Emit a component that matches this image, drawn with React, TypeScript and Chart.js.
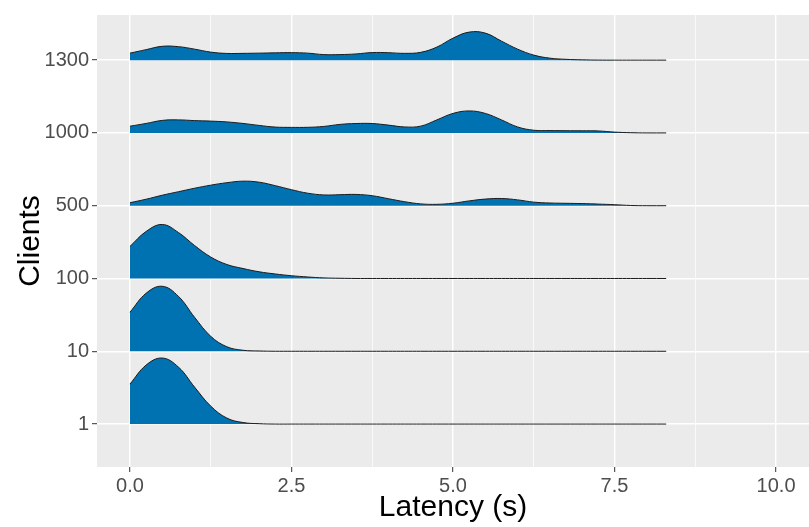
import React, { useEffect, useRef } from "react";
import { Chart, registerables } from "chart.js";

Chart.register(...registerables);

// Categories (bottom to top)
const CLIENTS = ["1", "10", "100", "500", "1000", "1300"];

// Latency grid (s)
const LATENCY = [
  0, 0.25, 0.5, 0.75, 1, 1.25, 1.5, 1.75, 2, 2.25, 2.5, 2.75, 3, 3.25, 3.5, 3.75,
  4, 4.25, 4.5, 4.75, 5, 5.25, 5.5, 5.75, 6, 6.25, 6.5, 6.75, 7, 7.25, 7.5, 7.75, 8, 8.3,
];

// Scaled densities per client count (1 = one ridge spacing)
const DENSITY_1 = [
  0.549, 0.81, 0.907, 0.783, 0.508, 0.247, 0.082, 0.021, 0.005, 0, 0, 0, 0, 0, 0, 0,
  0, 0, 0, 0, 0, 0, 0, 0, 0, 0, 0, 0, 0, 0, 0, 0, 0, 0,
];
const DENSITY_10 = [
  0.536, 0.797, 0.893, 0.755, 0.467, 0.206, 0.062, 0.014, 0.004, 0, 0, 0, 0, 0, 0, 0,
  0, 0, 0, 0, 0, 0, 0, 0, 0, 0, 0, 0, 0, 0, 0, 0, 0, 0,
];
const DENSITY_100 = [
  0.44, 0.646, 0.742, 0.632, 0.453, 0.295, 0.192, 0.137, 0.092, 0.062, 0.038, 0.021, 0.008, 0.003, 0, 0,
  0, 0, 0, 0, 0, 0, 0, 0, 0, 0, 0, 0, 0, 0, 0, 0, 0, 0,
];
const DENSITY_500 = [
  0.041, 0.089, 0.144, 0.192, 0.24, 0.282, 0.316, 0.337, 0.323, 0.275, 0.22, 0.172, 0.148, 0.151, 0.155, 0.137,
  0.096, 0.055, 0.025, 0.019, 0.034, 0.066, 0.091, 0.099, 0.08, 0.049, 0.037, 0.033, 0.029, 0.022, 0.014, 0.003, 0, 0,
];
const DENSITY_1000 = [
  0.092, 0.13, 0.172, 0.179, 0.169, 0.162, 0.151, 0.13, 0.103, 0.08, 0.076, 0.077, 0.089, 0.117, 0.129, 0.129,
  0.107, 0.082, 0.093, 0.179, 0.268, 0.302, 0.268, 0.179, 0.082, 0.037, 0.032, 0.03, 0.029, 0.027, 0.011, 0.003, 0, 0,
];
const DENSITY_1300 = [
  0.096, 0.144, 0.19, 0.185, 0.151, 0.11, 0.092, 0.093, 0.096, 0.1, 0.103, 0.096, 0.076, 0.076, 0.085, 0.104,
  0.102, 0.093, 0.107, 0.179, 0.302, 0.385, 0.371, 0.261, 0.151, 0.069, 0.027, 0.011, 0.004, 0.001, 0, 0, 0, 0,
];

const DENSITIES = [DENSITY_1, DENSITY_10, DENSITY_100, DENSITY_500, DENSITY_1000, DENSITY_1300];

const X_TICKS = [0, 1.25, 2.5, 3.75, 5, 6.25, 7.5, 8.75, 10];
const X_LABELS = ["0.0", "", "2.5", "", "5.0", "", "7.5", "", "10.0"];

const FONT = "'Liberation Sans', Arial, sans-serif";

const panelBg = {
  id: "panelBg",
  beforeDraw(chart: any) {
    const { ctx, chartArea } = chart;
    if (!chartArea) return;
    ctx.save();
    ctx.fillStyle = "#EBEBEB";
    ctx.fillRect(chartArea.left, chartArea.top, chartArea.right - chartArea.left, chartArea.bottom - chartArea.top);
    ctx.restore();
  },
};

export default function App() {
  const ref = useRef<HTMLCanvasElement | null>(null);

  useEffect(() => {
    if (!ref.current) return;
    const datasets = CLIENTS.map((c, i) => ({
      label: c,
      data: LATENCY.map((x, j) => ({ x, y: i + DENSITIES[i][j] })),
      borderColor: "#1c1c1c",
      borderWidth: 1,
      backgroundColor: "#0072B2",
      fill: { value: i },
      pointRadius: 0,
      tension: 0.4,
      order: i,
    }));

    const chart = new Chart(ref.current, {
      type: "line",
      data: { datasets },
      plugins: [panelBg],
      options: {
        responsive: false,
        animation: false,
        layout: { padding: { top: 15, right: 0, bottom: 0, left: 0 } },
        plugins: { legend: { display: false }, tooltip: { enabled: false } },
        scales: {
          x: {
            type: "linear",
            min: -0.51,
            max: 10.51,
            afterBuildTicks: (s: any) => {
              s.ticks = X_TICKS.map((v) => ({ value: v }));
            },
            afterFit: (s: any) => {
              s.height = 60;
            },
            border: { display: false },
            grid: {
              color: "#FFFFFF",
              lineWidth: (ctx: any) => (ctx.index % 2 === 0 ? 1.4 : 0.7),
              tickColor: (ctx: any) => (ctx.index % 2 === 0 ? "#333333" : "rgba(0,0,0,0)"),
              tickLength: 5,
              tickWidth: 1,
            },
            ticks: {
              autoSkip: false,
              maxRotation: 0,
              padding: 2,
              color: "#4D4D4D",
              font: { family: FONT, size: 20 },
              callback: (_v: any, idx: number) => X_LABELS[idx],
            },
            title: {
              display: true,
              text: "Latency (s)",
              color: "#000000",
              font: { family: FONT, size: 30 },
              padding: { top: 0, bottom: 1 },
            },
          },
          y: {
            type: "linear",
            min: -0.59,
            max: 5.62,
            afterBuildTicks: (s: any) => {
              s.ticks = CLIENTS.map((_c, i) => ({ value: i }));
            },
            afterFit: (s: any) => {
              s.width = 97;
            },
            border: { display: false },
            grid: {
              color: "#FFFFFF",
              lineWidth: 1.4,
              tickColor: "#333333",
              tickLength: 5,
              tickWidth: 1,
            },
            ticks: {
              autoSkip: false,
              padding: 3,
              color: "#4D4D4D",
              font: { family: FONT, size: 20 },
              callback: (_v: any, idx: number) => CLIENTS[idx],
            },
            title: {
              display: true,
              text: "Clients",
              color: "#000000",
              font: { family: FONT, size: 30 },
              padding: { top: 13, bottom: 0 },
            },
          },
        },
      },
    });
    return () => chart.destroy();
  }, []);

  return (
    <canvas
      ref={ref}
      width={809}
      height={527}
      style={{ position: "fixed", left: 0, top: 0, display: "block", background: "#FFFFFF" }}
    />
  );
}
